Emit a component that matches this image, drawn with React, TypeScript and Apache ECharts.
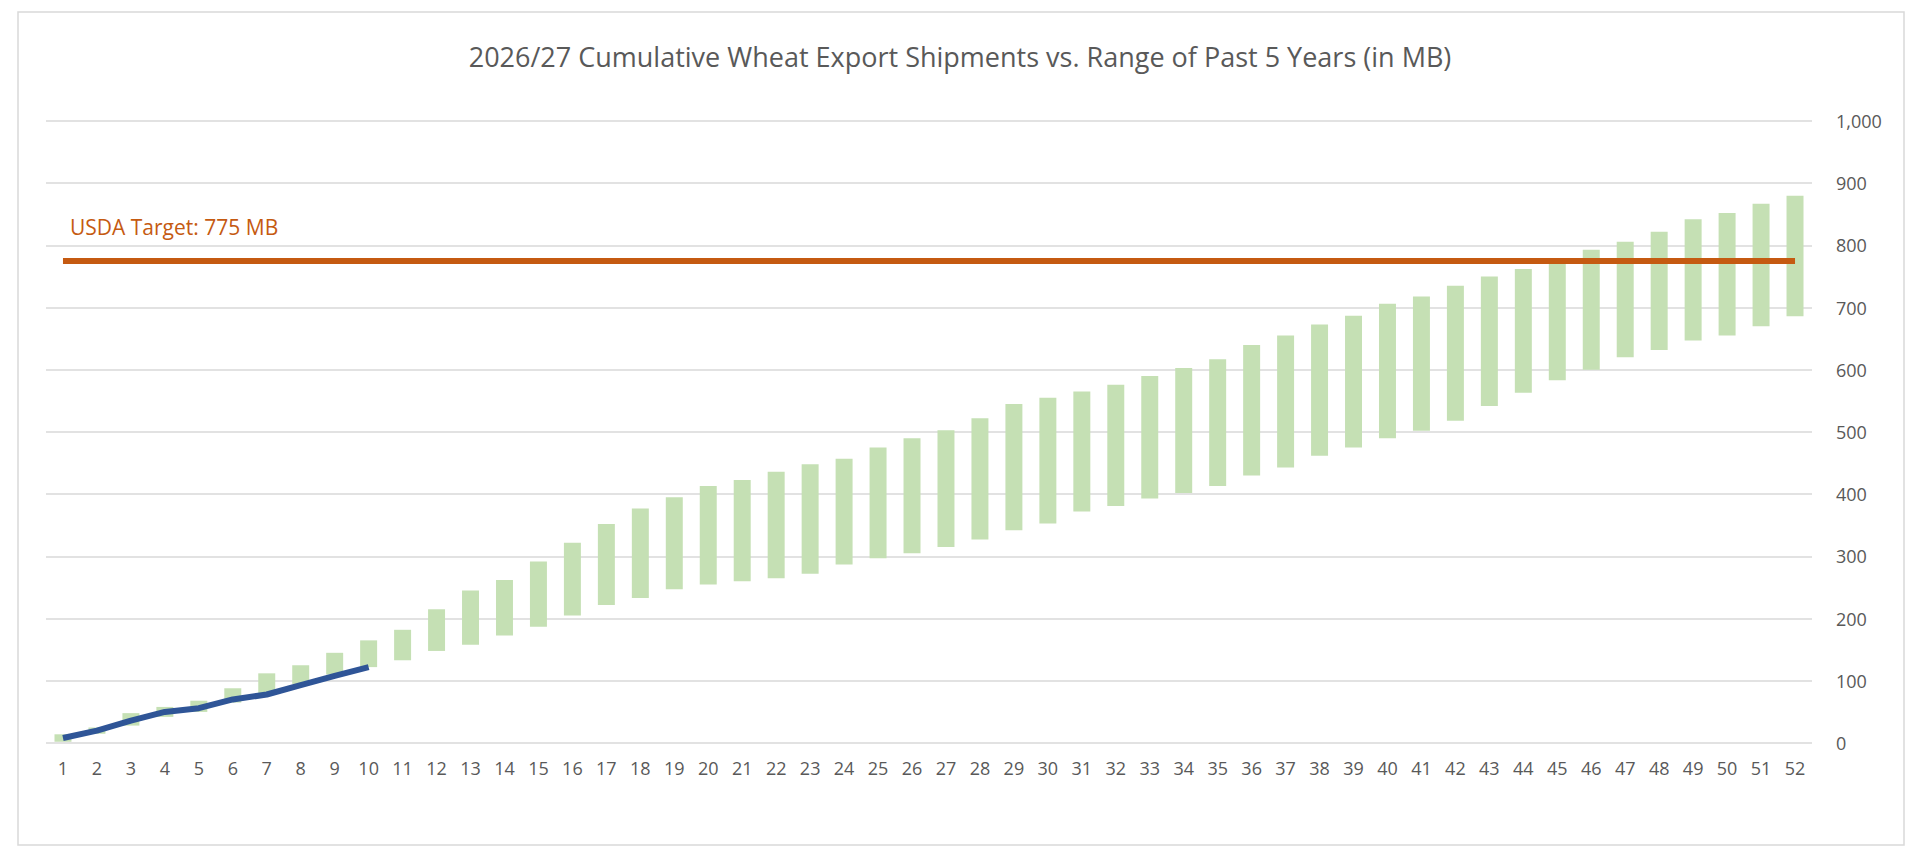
import React, { useEffect, useRef } from 'react';
import * as echarts from 'echarts';

const weeks = Array.from({ length: 52 }, (_, i) => String(i + 1));
const rangeLow = [2, 15, 28, 42, 50, 65, 80, 95, 110, 122, 133, 148, 158, 173, 187, 205, 222, 233, 247, 255, 260, 265, 272, 287, 297, 305, 315, 327, 342, 353, 372, 381, 393, 402, 413, 430, 443, 462, 475, 490, 502, 518, 542, 563, 583, 600, 620, 632, 647, 655, 670, 686];
const rangeHigh = [14, 25, 48, 58, 68, 88, 112, 125, 145, 165, 182, 215, 245, 262, 292, 322, 352, 377, 395, 413, 423, 436, 448, 457, 475, 490, 503, 522, 545, 555, 565, 576, 590, 603, 617, 640, 655, 673, 687, 706, 718, 735, 750, 762, 778, 793, 806, 822, 842, 852, 867, 880];
const current = [8, 20, 36, 50, 56, 70, 78, 93, 108, 122];
const usdaTarget = 775;

export default function App() {
  const ref = useRef<HTMLDivElement | null>(null);

  useEffect(() => {
    document.body.style.margin = '0';
    if (!ref.current) return;
    const chart = echarts.init(ref.current, undefined, { renderer: 'svg' });
    const font = '"Open Sans", Calibri, sans-serif';
    chart.setOption({
      animation: false,
      backgroundColor: '#fff',
      textStyle: { fontFamily: font },
      title: {
        text: '2026/27 Cumulative Wheat Export Shipments vs. Range of Past 5 Years (in MB)',
        left: 'center', top: 38,
        textStyle: { color: '#595959', fontSize: 27, fontWeight: 'normal', fontFamily: font },
      },
      graphic: [
        { type: 'rect', shape: { x: 18, y: 12, width: 1886, height: 833 }, style: { fill: 'none', stroke: '#d9d9d9', lineWidth: 1.5 }, silent: true },
        { type: 'text', x: 70, y: 216, style: { text: `USDA Target: ${usdaTarget} MB`, fill: '#c55a11', fontSize: 21, fontFamily: font } },
      ],
      grid: { left: 46, right: 108, top: 121, bottom: 124 },
      xAxis: {
        type: 'category', data: weeks,
        axisLine: { show: false }, axisTick: { show: false },
        axisLabel: { color: '#595959', fontSize: 18, margin: 16 },
      },
      yAxis: {
        type: 'value', position: 'right', min: 0, max: 1000, interval: 100,
        axisLabel: { color: '#595959', fontSize: 18, margin: 24 },
        splitLine: { lineStyle: { color: '#d9d9d9', width: 1.5 } },
      },
      series: [
        { type: 'bar', stack: 'r', data: rangeLow, itemStyle: { color: 'transparent' }, barWidth: '50%' },
        { type: 'bar', stack: 'r', data: rangeHigh.map((h, i) => h - rangeLow[i]), itemStyle: { color: '#c5e0b4' }, barWidth: '50%' },
        { type: 'line', data: weeks.map(() => usdaTarget), symbol: 'none', lineStyle: { color: '#c55a11', width: 6 } },
        { type: 'line', data: current, symbol: 'none', lineStyle: { color: '#2f5597', width: 6 } },
      ],
    });
    return () => chart.dispose();
  }, []);

  return <div ref={ref} style={{ width: 1920, height: 867 }} />;
}
